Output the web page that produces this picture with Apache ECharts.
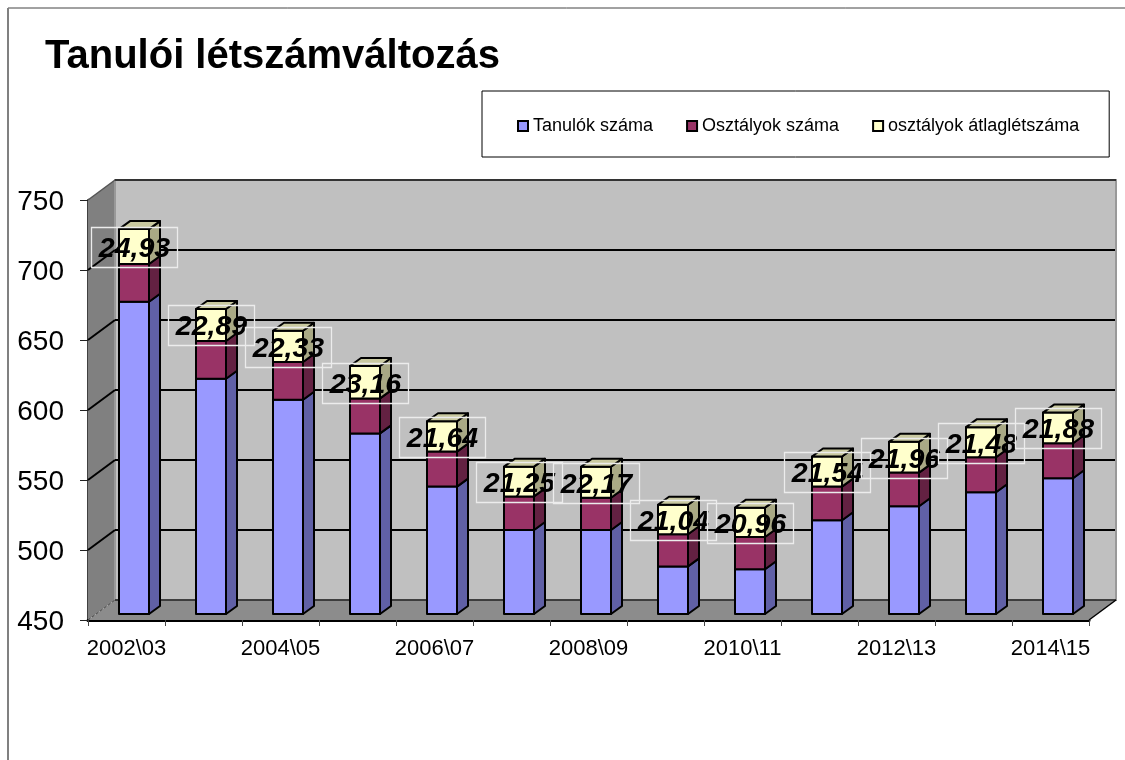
<!DOCTYPE html>
<html>
<head>
<meta charset="utf-8">
<style>html,body{margin:0;padding:0;background:#fff}#c{width:1125px;height:760px}</style>
<script src="https://cdn.jsdelivr.net/npm/echarts@6/dist/echarts.min.js"></script>
</head>
<body>
<div id="c"></div>
<script>
const categories = ['2002\\03','2003\\04','2004\\05','2005\\06','2006\\07','2007\\08','2008\\09','2009\\10','2010\\11','2011\\12','2012\\13','2013\\14','2014\\15'];
const students = [673,618,603,579,541,510,510,484,482,517,527,537,547];
const classes = [27,27,27,25,25,24,23,23,23,24,24,25,25];
const averages = [24.93,22.89,22.33,23.16,21.64,21.25,22.17,21.04,20.96,21.54,21.96,21.48,21.88];
const yTicks = [450,500,550,600,650,700,750];
const seriesNames = ['Tanulók száma','Osztályok száma','osztályok átlaglétszáma'];

const FONT = '"Liberation Sans", Arial, sans-serif';
const WALL = {dx:27, dy:20};
const BAR = {w:30, ox:7.5, oy:6, dx:11, dy:8};
const FACE = [
  {front:'#9999ff', side:'#6060a6', top:'#8080d0'},
  {front:'#993366', side:'#632142', top:'#80304f'},
  {front:'#ffffcc', side:'#a9a985', top:'#c9c9a0'}
];
const baseOf = [
  i => 450,
  i => students[i],
  i => students[i] + classes[i]
];
const topOf = [
  i => students[i],
  i => students[i] + classes[i],
  i => students[i] + classes[i] + averages[i]
];

function poly(points, fill, z2) {
  return {type:'polygon', z2:z2||0, shape:{points},
    style:{fill, stroke:'#000', lineWidth:2, lineJoin:'round'}};
}
function renderSeg(k) {
  return function (params, api) {
    const i = api.value(0);
    const b = api.coord([i, baseOf[k](i)]);
    const t = api.coord([i, topOf[k](i)]);
    const x0 = b[0] - BAR.w/2 + BAR.ox, x1 = x0 + BAR.w;
    const yb = b[1] - BAR.oy, yt = t[1] - BAR.oy;
    const d = BAR.dx, e = BAR.dy;
    const c = FACE[k];
    const kids = [
      poly([[x1,yb],[x1+d,yb-e],[x1+d,yt-e],[x1,yt]], c.side),
      poly([[x0,yb],[x1,yb],[x1,yt],[x0,yt]], c.front)
    ];
    if (k === 2) kids.push(poly([[x0,yt],[x1,yt],[x1+d,yt-e],[x0+d,yt-e]], c.top));
    return {type:'group', children:kids};
  };
}
function renderWalls(params, api) {
  const cs = params.coordSys;
  const L = cs.x, R = cs.x + cs.width, T = cs.y, B = cs.y + cs.height;
  const dx = WALL.dx, dy = WALL.dy;
  return {type:'group', children:[
    {type:'polygon', shape:{points:[[L,B],[L+dx,B-dy],[L+dx,T-dy],[L,T]]},
      style:{fill:'#808080', stroke:null}},
    {type:'rect', shape:{x:L+dx,y:T-dy,width:R-L,height:B-T},
      style:{fill:'#c0c0c0', stroke:'#999999', lineWidth:2}},
    {type:'polygon', shape:{points:[[L,B],[L+dx,B-dy],[R+dx,B-dy],[R,B]]},
      style:{fill:'#8c8c8c', stroke:null}},
    {type:'line', shape:{x1:L+dx,y1:T-dy,x2:R+dx,y2:T-dy}, style:{stroke:'#333',lineWidth:2}},
    {type:'line', shape:{x1:L+dx,y1:B-dy,x2:R+dx,y2:B-dy}, style:{stroke:'#222',lineWidth:1.5}},
    {type:'line', shape:{x1:L,y1:T,x2:L+dx,y2:T-dy}, style:{stroke:'#555',lineWidth:1.5}},
    {type:'line', shape:{x1:L,y1:B,x2:L+dx,y2:B-dy}, style:{stroke:'#444',lineWidth:1,lineDash:[3,2]}},
    {type:'line', shape:{x1:R,y1:B,x2:R+dx,y2:B-dy}, style:{stroke:'#000',lineWidth:1.5}}
  ]};
}
function renderGrid(params, api) {
  const cs = params.coordSys;
  const v = api.value(0);
  const y = api.coord([0, v])[1];
  const L = cs.x, R = cs.x + cs.width;
  const dx = WALL.dx, dy = WALL.dy;
  if (v === 450 || v === 750) return {type:'group', children:[]};
  return {type:'group', children:[
    {type:'line', shape:{x1:L+dx,y1:y-dy,x2:R+dx-1,y2:y-dy}, style:{stroke:'#000',lineWidth:2}},
    {type:'line', shape:{x1:L,y1:y,x2:L+dx,y2:y-dy}, style:{stroke:'#000',lineWidth:2}}
  ]};
}
function renderLabel(params, api) {
  const i = api.value(0);
  const t = api.coord([i, topOf[2](i)]);
  const b = api.coord([i, baseOf[2](i)]);
  const cx = t[0] + BAR.ox, cy = (t[1] + b[1]) / 2 - BAR.oy + 0.5;
  return {type:'group', children:[
    {type:'rect', shape:{x:Math.round(cx-43)+.5,y:Math.round(cy-20)+.5,width:86,height:40},
      style:{fill:'none', stroke:'#ececec', lineWidth:1.3}},
    {type:'text', x:cx+0.5, y:cy+2, style:{
      text:averages[i].toFixed(2).replace('.',','),
      font:'italic bold 28.5px '+FONT, fill:'#000', align:'center', verticalAlign:'middle'}}
  ]};
}

const idx = categories.map((_, i) => i);
const series = [
  {type:'custom', name:'walls', coordinateSystem:'cartesian2d', data:[0], renderItem:renderWalls, silent:true, z:1, encode:{x:0,y:-1}},
  {type:'custom', name:'grid', coordinateSystem:'cartesian2d', data:yTicks.map(v=>[v]), renderItem:renderGrid, silent:true, z:2, encode:{x:-1,y:0}}
];
[0,1,2].forEach(k => series.push({
  type:'custom', name:seriesNames[k], coordinateSystem:'cartesian2d', data:idx.map(i=>[i]),
  renderItem:renderSeg(k), z:3+k, encode:{x:0},
  itemStyle:{color:FACE[k].front, borderColor:'#000', borderWidth:2}
}));
series.push({type:'custom', name:'labels', coordinateSystem:'cartesian2d', data:idx.map(i=>[i]), renderItem:renderLabel, silent:true, z:10, encode:{x:0}});

const chart = echarts.init(document.getElementById('c'), null, {renderer:'canvas'});
chart.setOption({
  animation:false,
  backgroundColor:'#fff',
  title:{text:'Tanulói létszámváltozás', left:40, top:32,
    textStyle:{fontFamily:FONT, fontSize:40, fontWeight:'bold', color:'#000'}},
  legend:{
    data:seriesNames, left:482, top:91, orient:'horizontal',
    padding:[26,30,22,35], itemGap:33, itemWidth:10, itemHeight:10,
    borderColor:'#000', borderWidth:1, backgroundColor:'#fff',
    icon:'rect',
    textStyle:{fontFamily:FONT, fontSize:18, color:'#000'}
  },
  grid:{left:88, right:36, top:200, height:420, containLabel:false},
  xAxis:{type:'category', data:categories, boundaryGap:true,
    axisLine:{show:true,lineStyle:{color:'#000',width:3}},
    axisTick:{show:true,length:6,alignWithLabel:false,interval:0,lineStyle:{color:'#444',width:1}},
    axisLabel:{interval:1,margin:18,color:'#000',fontFamily:FONT,fontSize:22},
    splitLine:{show:false}},
  yAxis:{type:'value', min:450, max:750, interval:50,
    axisLine:{show:true,lineStyle:{color:'#000',width:2.5}},
    axisTick:{show:true,length:8,lineStyle:{color:'#222',width:1}},
    axisLabel:{margin:24,color:'#000',formatter:'{v|{value}}',
      rich:{v:{fontFamily:FONT,fontSize:28,color:'#000',padding:[4,0,0,0]}}},
    splitLine:{show:false}},
  series,
  graphic:[
    {type:'line', shape:{x1:8,y1:8,x2:1125,y2:8}, style:{stroke:'#444',lineWidth:1}},
    {type:'line', shape:{x1:8,y1:8,x2:8,y2:760}, style:{stroke:'#808080',lineWidth:2}}
  ]
});
</script>
</body>
</html>
